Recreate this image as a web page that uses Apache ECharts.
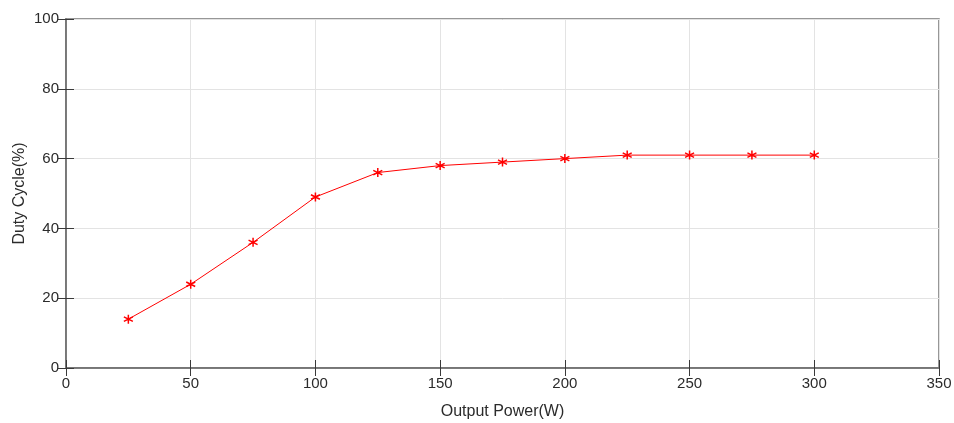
<!DOCTYPE html>
<html><head><meta charset="utf-8">
<script src="https://cdn.jsdelivr.net/npm/echarts@6/dist/echarts.min.js"></script>
<style>html,body{margin:0;padding:0;background:#fff}#c{width:954px;height:423px}</style>
</head><body><div id="c"></div>
<script>
const power = [25, 50, 75, 100, 125, 150, 175, 200, 225, 250, 275, 300];
const duty = [14, 24, 36, 49, 56, 58, 59, 60, 61, 61, 61, 61];
const xTitle = 'Output Power(W)';
const yTitle = 'Duty Cycle(%)';

const axisColor = '#767676';
const labelColor = '#2b2b2b';
const font = 'Liberation Sans, Arial, sans-serif';
const star = 'path://M0,-5L0,5M-4.33,-2.5L4.33,2.5M-4.33,2.5L4.33,-2.5';

const tick = {show: true, inside: true, length: 8, lineStyle: {color: '#3a3a3a', width: 1}};
const chart = echarts.init(document.getElementById('c'));
chart.setOption({
  animation: false,
  grid: {left: 66, top: 19, width: 873, height: 349, show: true, outerBoundsMode: 'none',
         containLabel: false,
         borderColor: axisColor, borderWidth: 1.5, backgroundColor: 'transparent'},
  xAxis: [{
    type: 'value', min: 0, max: 350, interval: 50,
    name: xTitle, nameLocation: 'middle', nameGap: 36, nameMoveOverlap: false,
    nameTextStyle: {color: labelColor, fontSize: 16, fontFamily: font},
    axisLine: {show: true, lineStyle: {color: axisColor, width: 1.5}},
    axisTick: tick,
    axisLabel: {color: labelColor, fontSize: 15, fontFamily: font, margin: 8},
    splitLine: {show: true, lineStyle: {color: '#e3e3e3'}}
  }, {
    type: 'value', min: 0, max: 350, interval: 50, position: 'top',
    axisLine: {show: true, lineStyle: {color: axisColor, width: 1.5}},
    axisTick: tick,
    axisLabel: {show: false}, splitLine: {show: false}
  }],
  yAxis: [{
    type: 'value', min: 0, max: 100, interval: 20,
    name: yTitle, nameLocation: 'middle', nameGap: 38, nameMoveOverlap: false,
    nameTextStyle: {color: labelColor, fontSize: 16, fontFamily: font},
    axisLine: {show: true, lineStyle: {color: axisColor, width: 1.5}},
    axisTick: tick,
    axisLabel: {color: labelColor, fontSize: 15, fontFamily: font, margin: 7},
    splitLine: {show: true, lineStyle: {color: '#e3e3e3'}}
  }, {
    type: 'value', min: 0, max: 100, interval: 20, position: 'right',
    axisLine: {show: true, lineStyle: {color: axisColor, width: 1.5}},
    axisTick: tick,
    axisLabel: {show: false}, splitLine: {show: false}
  }],
  series: [{
    type: 'line',
    data: power.map((p, i) => [p, duty[i]]),
    lineStyle: {color: '#ff0000', width: 1},
    symbol: star, symbolSize: 9,
    itemStyle: {color: 'rgba(0,0,0,0)', borderColor: '#ff0000', borderWidth: 1.5}
  }, {
    type: 'line', xAxisIndex: 1, yAxisIndex: 1, data: [], silent: true
  }]
});
</script></body></html>
